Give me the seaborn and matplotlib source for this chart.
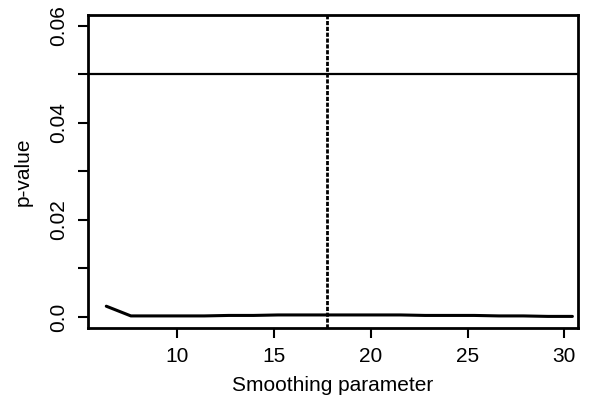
import matplotlib.pyplot as plt
import pandas as pd
import seaborn as sns

# smoothing parameter grid and p-values
smoothing = [6.33, 7.6, 8.87, 10.14, 11.4, 12.67, 13.94, 15.21, 16.47, 17.74,
             19.01, 20.28, 21.54, 22.81, 24.08, 25.35, 26.62, 27.88, 29.15, 30.42]
p_values = [0.0022, 0.0002, 0.0002, 0.0002, 0.0002, 0.0003, 0.0003, 0.0004, 0.0004, 0.0004,
            0.0004, 0.0004, 0.0004, 0.0003, 0.0003, 0.0003, 0.0002, 0.0002, 0.0001, 0.0001]
selected = 17.72
alpha = 0.05
y_ticks = [0.0, 0.01, 0.02, 0.03, 0.04, 0.05, 0.06]
y_labels = ['0.0', '', '0.02', '', '0.04', '', '0.06']
x_ticks = [10, 15, 20, 25, 30]

df = pd.DataFrame({'smoothing': smoothing, 'p': p_values})

sns.set_style('ticks', {'text.color': 'black', 'axes.labelcolor': 'black',
                        'xtick.color': 'black', 'ytick.color': 'black'})
plt.rcParams['font.family'] = ['Liberation Sans', 'DejaVu Sans']

fig = plt.figure(figsize=(5.9, 4.05), dpi=100)
ax = fig.add_axes([0.149, 0.19, 0.831, 0.773])

sns.lineplot(ax=ax, data=df, x='smoothing', y='p', color='black', linewidth=2.2)
ax.axhline(alpha, color='black', linewidth=1.6)
ax.axvline(selected, color='black', linewidth=2, linestyle=(0, (1.5, 0.6)))

ax.set_xlim(5.38, 30.72)
ax.set_ylim(-0.0023, 0.0622)
ax.set_xticks(x_ticks)
ax.set_yticks(y_ticks)
ax.set_yticklabels(y_labels, rotation=90, va='center')
ax.tick_params(axis='both', length=7, width=1.5, labelsize=15, direction='out', pad=7,
               colors='black')
for s in ax.spines.values():
    s.set_visible(True)
    s.set_linewidth(2)
    s.set_color('black')

ax.set_xlabel('Smoothing parameter', fontsize=15, labelpad=7, color='black')
ax.set_ylabel('p-value', fontsize=15, labelpad=12, color='black')

fig.savefig('out.png', dpi=100)
